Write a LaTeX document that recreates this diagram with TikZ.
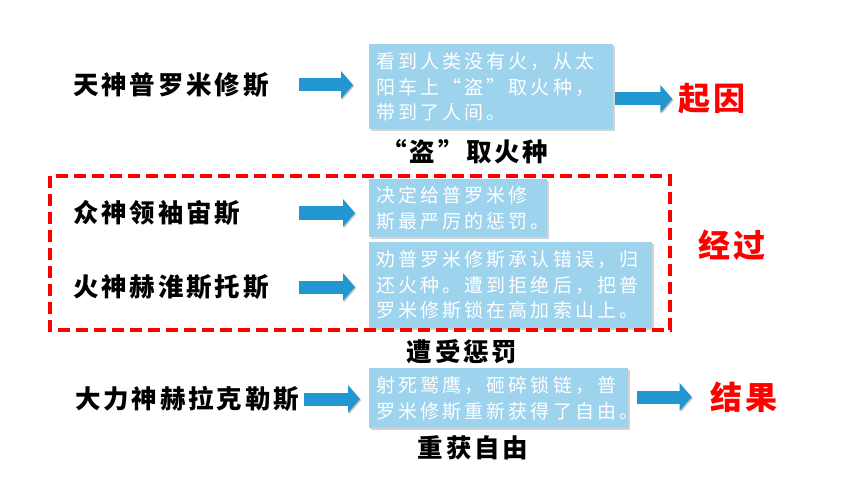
\documentclass[tikz,border=0pt]{standalone}
\usepackage{fontspec}
\usetikzlibrary{positioning,shadows,arrows.meta}
\newfontfamily\labfont[LetterSpace=11]{Noto Sans CJK SC}
\newfontfamily\boxfont[LetterSpace=16]{Noto Sans CJK SC}
\newfontfamily\keyfont[LetterSpace=10]{Noto Sans CJK SC}
\definecolor{boxblue}{RGB}{157,211,237}
\definecolor{arrowblue}{RGB}{33,150,209}

\begin{document}
\begin{tikzpicture}[
x=1pt,y=-1pt,
god/.style={
  inner sep=0pt,
  anchor=west,
  font=\labfont\bfseries\fontsize{25.5}{28}\selectfont
},
note/.style={
  inner sep=0pt,
  font=\labfont\bfseries\fontsize{25.5}{28}\selectfont
},
key/.style={
  inner sep=0pt,
  text=red,
  font=\keyfont\bfseries\fontsize{32}{36}\selectfont
},
story/.style={
  fill=boxblue,
  text=white,
  anchor=north west,
  inner xsep=7.5pt,
  inner ysep=0pt,
  align=left,
  font=\boxfont\fontsize{19}{25.5}\selectfont,
  drop shadow={shadow xshift=2pt,shadow yshift=-2pt,opacity=0.35}
},
barrow/.style={
  draw=arrowblue,
  line width=13pt,
  -{Triangle[length=12pt,width=27pt]},
  preaction={draw=gray!45,transform canvas={shift={(1.2pt,-1.2pt)}}}
},
punish/.style={
  draw=red,
  line width=3.5pt,
  dash pattern=on 12pt off 6pt
}
]
\useasboundingbox (0,0) rectangle (860,484);

\node[god] (tian) at (73,85) {天神普罗米修斯};
\node[god] (zhong) at (73,213) {众神领袖宙斯};
\node[god] (huo) at (73,287) {火神赫淮斯托斯};
\node[god] (dali) at (75,399) {大力神赫拉克勒斯};

\node[story,text width=228.6pt,minimum height=85.3pt] (box1) at (369,44)
  {看到人类没有火，从太\\阳车上“盗”取火种，\\带到了人间。};
\node[story,text width=163pt,minimum height=58pt] (box2) at (369,179)
  {决定给普罗米修\\斯最严厉的惩罚。};
\node[story,text width=268pt,minimum height=86pt] (box3) at (369,242)
  {劝普罗米修斯承认错误，归\\还火种。遭到拒绝后，把普\\罗米修斯锁在高加索山上。};
\node[story,text width=244pt,minimum height=60pt] (box4) at (369,368)
  {射死鹫鹰，砸碎锁链，普\\罗米修斯重新获得了自由。};

\node[note] (dao) at (465,152) {“盗”取火种};
\node[note] (zao) at (462,352) {遭受惩罚};
\node[note] (chong) at (473,448) {重获自由};

\node[key] (qiyin) at (712,99) {起因};
\node[key] (jingguo) at (732,245) {经过};
\node[key] (jieguo) at (744,397) {结果};

\draw[punish] (50,176) rectangle (670,330);

\draw[barrow,shorten <=30.4pt,shorten >=16pt] (tian.east) -- (tian.east -| box1.west);
\draw[barrow,shorten <=58.5pt,shorten >=14pt] (zhong.east) -- (zhong.east -| box2.west);
\draw[barrow,shorten <=30.4pt,shorten >=14pt] (huo.east) -- (huo.east -| box3.west);
\draw[barrow,shorten <=5.4pt,shorten >=9pt] (dali.east) -- (dali.east -| box4.west);
\draw[barrow,shorten <=2.3pt,shorten >=5.8pt] (qiyin.west -| box1.east) -- (qiyin.west);
\draw[barrow,shorten <=9pt,shorten >=18.5pt] (jieguo.west -| box4.east) -- (jieguo.west);
\end{tikzpicture}
\end{document}
